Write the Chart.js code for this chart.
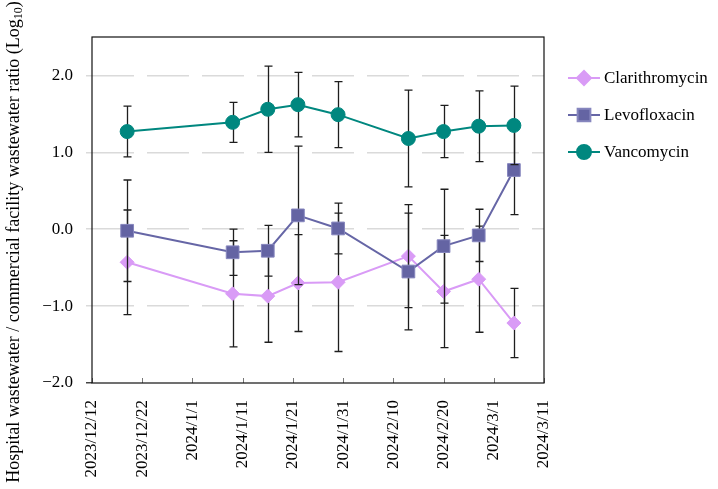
<!DOCTYPE html>
<html>
<head>
<meta charset="utf-8">
<script src="https://cdn.jsdelivr.net/npm/chart.js@4.4.1/dist/chart.umd.min.js"></script>
<style>
  html, body { margin: 0; padding: 0; background: #fff; }
</style>
</head>
<body>
<canvas id="chart" width="718" height="489"></canvas>
<script>
// sampling dates and x axis tick labels
const sampleDates = ['2023-12-19', '2024-01-09', '2024-01-16', '2024-01-22', '2024-01-30',
                     '2024-02-13', '2024-02-20', '2024-02-27', '2024-03-05'];
const xTickLabels = ['2023/12/12', '2023/12/22', '2024/1/1', '2024/1/11', '2024/1/21',
                     '2024/1/31', '2024/2/10', '2024/2/20', '2024/3/1', '2024/3/11'];
const yTicks = [-2, -1, 0, 1, 2];

// log10 ratios and error bar half-widths
const clarithromycin    = [-0.43, -0.84, -0.87, -0.70, -0.69, -0.35, -0.81, -0.65, -1.22];
const clarithromycinErr = [0.68, 0.69, 0.60, 0.63, 0.90, 0.67, 0.73, 0.69, 0.45];
const levofloxacin      = [-0.02, -0.30, -0.28, 0.18, 0.01, -0.55, -0.22, -0.08, 0.77];
const levofloxacinErr   = [0.66, 0.30, 0.33, 0.90, 0.33, 0.76, 0.74, 0.34, 0.58];
const vancomycin        = [1.27, 1.39, 1.56, 1.62, 1.49, 1.18, 1.27, 1.34, 1.35];
const vancomycinErr     = [0.33, 0.26, 0.56, 0.42, 0.43, 0.63, 0.34, 0.46, 0.51];

const FONT = '"Liberation Serif", "Times New Roman", serif';

function toMs(s) {
  const p = s.split(/[-\/]/).map(Number);
  return Date.UTC(p[0], p[1] - 1, p[2]);
}
const xTickValues = xTickLabels.map(toMs);

function points(values) {
  return values.map((v, i) => ({ x: toMs(sampleDates[i]), y: v }));
}

// error bars go under each dataset's own markers
const errorBars = {
  id: 'errorBars',
  beforeDatasetDraw(chart, args) {
    const ds = chart.data.datasets[args.index];
    if (!ds.errors) return;
    const { ctx, scales: { x, y } } = chart;
    ctx.save();
    ctx.strokeStyle = '#1e1e1e';
    ctx.lineWidth = 1.3;
    ds.data.forEach((p, i) => {
      const px = Math.round(x.getPixelForValue(p.x)) + 0.5;
      const top = y.getPixelForValue(p.y + ds.errors[i]);
      const bot = y.getPixelForValue(p.y - ds.errors[i]);
      ctx.beginPath();
      ctx.moveTo(px, top); ctx.lineTo(px, bot);
      ctx.moveTo(px - 4, top); ctx.lineTo(px + 4, top);
      ctx.moveTo(px - 4, bot); ctx.lineTo(px + 4, bot);
      ctx.stroke();
    });
    ctx.restore();
  }
};

// frame, inner x ticks, y title with subscript, legend
const decorations = {
  id: 'decorations',
  afterDraw(chart) {
    const { ctx, chartArea: a, scales: { x } } = chart;
    ctx.save();
    // x ticks pointing into the plot
    ctx.strokeStyle = '#777';
    ctx.lineWidth = 1;
    xTickValues.forEach(v => {
      const px = Math.round(x.getPixelForValue(v)) + 0.5;
      ctx.beginPath();
      ctx.moveTo(px, a.bottom);
      ctx.lineTo(px, a.bottom - 5);
      ctx.stroke();
    });
    // frame
    ctx.strokeStyle = '#111';
    ctx.lineWidth = 1.2;
    ctx.strokeRect(a.left, a.top, a.right - a.left, a.bottom - a.top);

    // y axis title
    const main = 'Hospital wastewater / commercial facility wastewater ratio (Log';
    ctx.fillStyle = '#000';
    ctx.textBaseline = 'middle';
    ctx.font = '18px ' + FONT;
    const w1 = ctx.measureText(main).width;
    ctx.font = '12px ' + FONT;
    const w2 = ctx.measureText('10').width;
    ctx.font = '18px ' + FONT;
    const w3 = ctx.measureText(')').width;
    const total = w1 + w2 + w3;
    ctx.translate(14, 242);
    ctx.rotate(-Math.PI / 2);
    let cx = -total / 2;
    ctx.textAlign = 'left';
    ctx.fillText(main, cx, 0);
    cx += w1;
    ctx.font = '12px ' + FONT;
    ctx.fillText('10', cx, 5);
    cx += w2;
    ctx.font = '18px ' + FONT;
    ctx.fillText(')', cx, 0);
    ctx.restore();

    // legend
    ctx.save();
    const rows = [78, 115, 152];
    chart.data.datasets.forEach((ds, i) => {
      const yy = rows[i];
      ctx.strokeStyle = ds.borderColor;
      ctx.lineWidth = 2;
      ctx.beginPath();
      ctx.moveTo(568, yy);
      ctx.lineTo(600, yy);
      ctx.stroke();
      ctx.fillStyle = ds.pointBackgroundColor;
      ctx.strokeStyle = ds.pointBorderColor;
      Chart.helpers.drawPoint(ctx, {
        pointStyle: ds.pointStyle, radius: ds.pointRadius, rotation: 0, borderWidth: ds.pointBorderWidth
      }, 584, yy);
      ctx.fillStyle = '#000';
      ctx.font = '17px ' + FONT;
      ctx.textAlign = 'left';
      ctx.textBaseline = 'middle';
      ctx.fillText(ds.label, 604, yy + 1);
    });
    ctx.restore();
  }
};

new Chart(document.getElementById('chart'), {
  type: 'line',
  data: {
    datasets: [
      {
        label: 'Clarithromycin',
        data: points(clarithromycin),
        errors: clarithromycinErr,
        borderColor: '#D99BF6',
        backgroundColor: '#D99BF6',
        pointBackgroundColor: '#D99BF6',
        pointBorderColor: '#D99BF6',
        pointBorderWidth: 1,
        pointStyle: 'rectRot',
        pointRadius: 7,
        borderWidth: 2,
        order: 2
      },
      {
        label: 'Levofloxacin',
        data: points(levofloxacin),
        errors: levofloxacinErr,
        borderColor: '#6666A6',
        backgroundColor: '#6666A6',
        pointBackgroundColor: '#6464A3',
        pointBorderColor: '#8686BE',
        pointBorderWidth: 1,
        pointStyle: 'rect',
        pointRadius: 9,
        borderWidth: 2,
        order: 1
      },
      {
        label: 'Vancomycin',
        data: points(vancomycin),
        errors: vancomycinErr,
        borderColor: '#00877F',
        backgroundColor: '#00877F',
        pointBackgroundColor: '#00877F',
        pointBorderColor: '#00877F',
        pointBorderWidth: 1,
        pointStyle: 'circle',
        pointRadius: 7,
        borderWidth: 2,
        order: 0
      }
    ]
  },
  options: {
    responsive: false,
    animation: false,
    layout: { padding: { left: 0, top: 37, right: 174, bottom: 0 } },
    plugins: {
      legend: { display: false },
      tooltip: { enabled: false }
    },
    scales: {
      x: {
        type: 'linear',
        min: xTickValues[0],
        max: xTickValues[xTickValues.length - 1],
        afterBuildTicks: s => { s.ticks = xTickValues.map(v => ({ value: v })); },
        afterFit: s => { s.height = 106; },
        grid: { display: false },
        border: { display: false },
        ticks: {
          autoSkip: false,
          minRotation: 90,
          maxRotation: 90,
          padding: 9,
          color: '#000',
          font: { family: FONT, size: 17 },
          callback: (v, i) => xTickLabels[i]
        }
      },
      y: {
        min: -2,
        max: 2.5,
        afterBuildTicks: s => { s.ticks = yTicks.map(v => ({ value: v })); },
        afterFit: s => { s.width = 92; },
        grid: {
          color: c => (c.tick && c.tick.value === -2) ? 'rgba(0,0,0,0)' : '#DADADA',
          lineWidth: 1.5,
          tickColor: c => (c.tick && c.tick.value === -2) ? '#444' : '#DADADA',
          tickLength: 6,
          tickBorderDash: []
        },
        border: { display: false, dash: [42, 13] },
        ticks: {
          padding: 13,
          color: '#000',
          font: { family: FONT, size: 17 },
          callback: v => v.toFixed(1).replace('-', '\u2212')
        }
      }
    }
  },
  plugins: [errorBars, decorations]
});
</script>
</body>
</html>
